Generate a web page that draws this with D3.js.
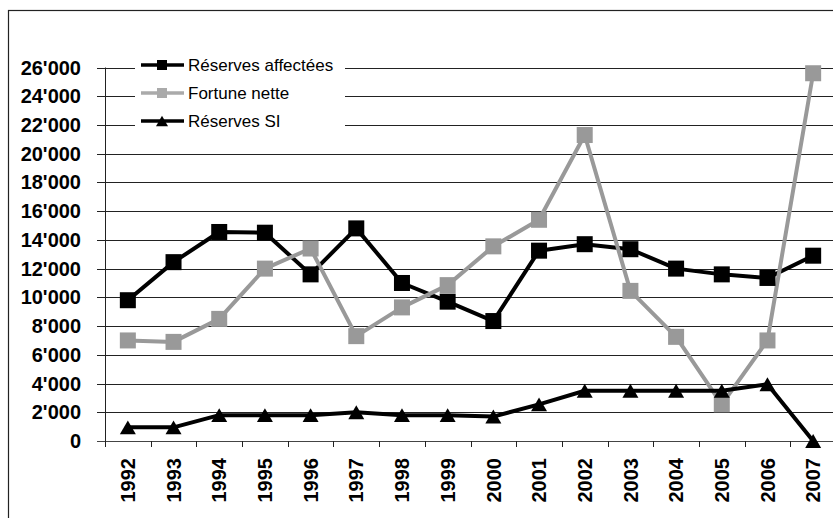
<!DOCTYPE html>
<html>
<head>
<meta charset="utf-8">
<script src="https://cdn.jsdelivr.net/npm/d3@7"></script>
<style>
  body { margin: 0; background: #fff; }
  svg { display: block; font-family: "Liberation Sans", Arial, sans-serif; }
</style>
</head>
<body>
<svg id="chart" width="833" height="518"></svg>
<script>
// data
const years = ['1992','1993','1994','1995','1996','1997','1998','1999',
               '2000','2001','2002','2003','2004','2005','2006','2007'];
const reservesAffectees = [9800,12450,14550,14500,11600,14800,11000,9700,
                           8350,13250,13700,13350,12000,11600,11350,12900];
const fortuneNette = [7000,6900,8500,12000,13400,7300,9300,10850,
                      13550,15400,21300,10450,7250,2550,7000,25600];
const reservesSI = [950,950,1800,1800,1800,2000,1800,1800,
                    1700,2550,3500,3500,3500,3500,3950,0];
const yTicks = d3.range(0, 26001, 2000);

const series = [
  { name: 'Réserves affectées', values: reservesAffectees, color: '#000', marker: 'square' },
  { name: 'Fortune nette', values: fortuneNette, color: '#999', marker: 'square' },
  { name: 'Réserves SI', values: reservesSI, color: '#000', marker: 'triangle' }
];

const svg = d3.select('#chart');
const plotL = 105, plotR = 836, plotT = 67.5, plotB = 441;

// outer frame
svg.append('rect')
  .attr('x', 8.5).attr('y', 10.5)
  .attr('width', 900).attr('height', 600)
  .attr('fill', 'none').attr('stroke', '#222').attr('stroke-width', 1.2);

const x = d3.scaleBand().domain(years).range([plotL, plotR]);
const y = d3.scaleLinear().domain([0, 26000]).range([plotB, plotT]);

const loc = d3.formatLocale({ decimal: '.', thousands: "'", grouping: [3], currency: ['', ''] });
const fmt = loc.format(',');

// gridlines
svg.append('g').selectAll('line')
  .data(yTicks.filter(d => d > 0))
  .join('line')
  .attr('x1', plotL).attr('x2', plotR)
  .attr('y1', d => Math.round(y(d)) + 0.5).attr('y2', d => Math.round(y(d)) + 0.5)
  .attr('stroke', '#222').attr('stroke-width', 1);

// y axis
const yAxis = svg.append('g')
  .attr('transform', `translate(${plotL},0)`)
  .call(d3.axisLeft(y).tickValues(yTicks).tickFormat(fmt).tickSize(8).tickPadding(16));
yAxis.select('.domain').remove();
yAxis.selectAll('.tick line').attr('stroke', '#222');
yAxis.selectAll('.tick text')
  .attr('fill', '#000')
  .style('font-size', '20px').style('font-weight', 'bold');
yAxis.selectAll('.tick').attr('transform', d => `translate(0,${Math.round(y(d)) + 0.5})`);
svg.append('line')
  .attr('x1', plotL + 0.5).attr('x2', plotL + 0.5)
  .attr('y1', plotT).attr('y2', plotB + 6)
  .attr('stroke', '#222');

// x axis line, boundary ticks and rotated labels
svg.append('line')
  .attr('x1', plotL - 8).attr('x2', plotR)
  .attr('y1', Math.round(plotB) + 0.5).attr('y2', Math.round(plotB) + 0.5)
  .attr('stroke', '#444');
svg.append('g').selectAll('line')
  .data(d3.range(years.length + 1))
  .join('line')
  .attr('x1', i => Math.round(plotL + i * x.step()) + 0.5)
  .attr('x2', i => Math.round(plotL + i * x.step()) + 0.5)
  .attr('y1', plotB).attr('y2', plotB + 6)
  .attr('stroke', '#222');
svg.append('g').selectAll('text')
  .data(years)
  .join('text')
  .attr('transform', d => `translate(${x(d) + x.bandwidth() / 2},458) rotate(-90)`)
  .attr('text-anchor', 'end')
  .attr('dy', '0.36em')
  .style('font-size', '20px').style('font-weight', 'bold')
  .text(d => d);

// series
const line = d3.line()
  .x((d, i) => x(years[i]) + x.bandwidth() / 2)
  .y(d => y(d));

function drawMarker(g, type, size, color) {
  if (type === 'square') {
    g.append('rect')
      .attr('x', -size / 2).attr('y', -size / 2)
      .attr('width', size).attr('height', size)
      .attr('fill', color);
  } else {
    const h = size * 0.87;
    g.append('path')
      .attr('d', `M0,${-h / 2}L${size / 2},${h / 2}L${-size / 2},${h / 2}Z`)
      .attr('fill', color);
  }
}

series.forEach(s => {
  svg.append('path')
    .datum(s.values)
    .attr('d', line)
    .attr('fill', 'none')
    .attr('stroke', s.color)
    .attr('stroke-width', 4)
    .attr('stroke-linejoin', 'round');
});
series.forEach(s => {
  s.values.forEach((v, i) => {
    const g = svg.append('g')
      .attr('transform', `translate(${x(years[i]) + x.bandwidth() / 2},${y(v)})`);
    drawMarker(g, s.marker, 16, s.color);
  });
});

// legend
const legend = svg.append('g');
legend.append('rect')
  .attr('x', 135).attr('y', 52)
  .attr('width', 210).attr('height', 82)
  .attr('fill', '#fff');
series.forEach((s, i) => {
  const ly = 65 + i * 28;
  const g = legend.append('g').attr('transform', `translate(0,${ly})`);
  g.append('line')
    .attr('x1', 141).attr('x2', 184)
    .attr('stroke', s.color === '#999' ? '#aaa' : '#000')
    .attr('stroke-width', 3.5);
  const m = g.append('g').attr('transform', 'translate(162,0)');
  drawMarker(m, s.marker, s.marker === 'square' ? 10 : 12, s.color === '#999' ? '#aaa' : '#000');
  g.append('text')
    .attr('x', 188).attr('dy', '0.36em')
    .style('font-size', '17px')
    .text(s.name);
});
</script>
</body>
</html>
